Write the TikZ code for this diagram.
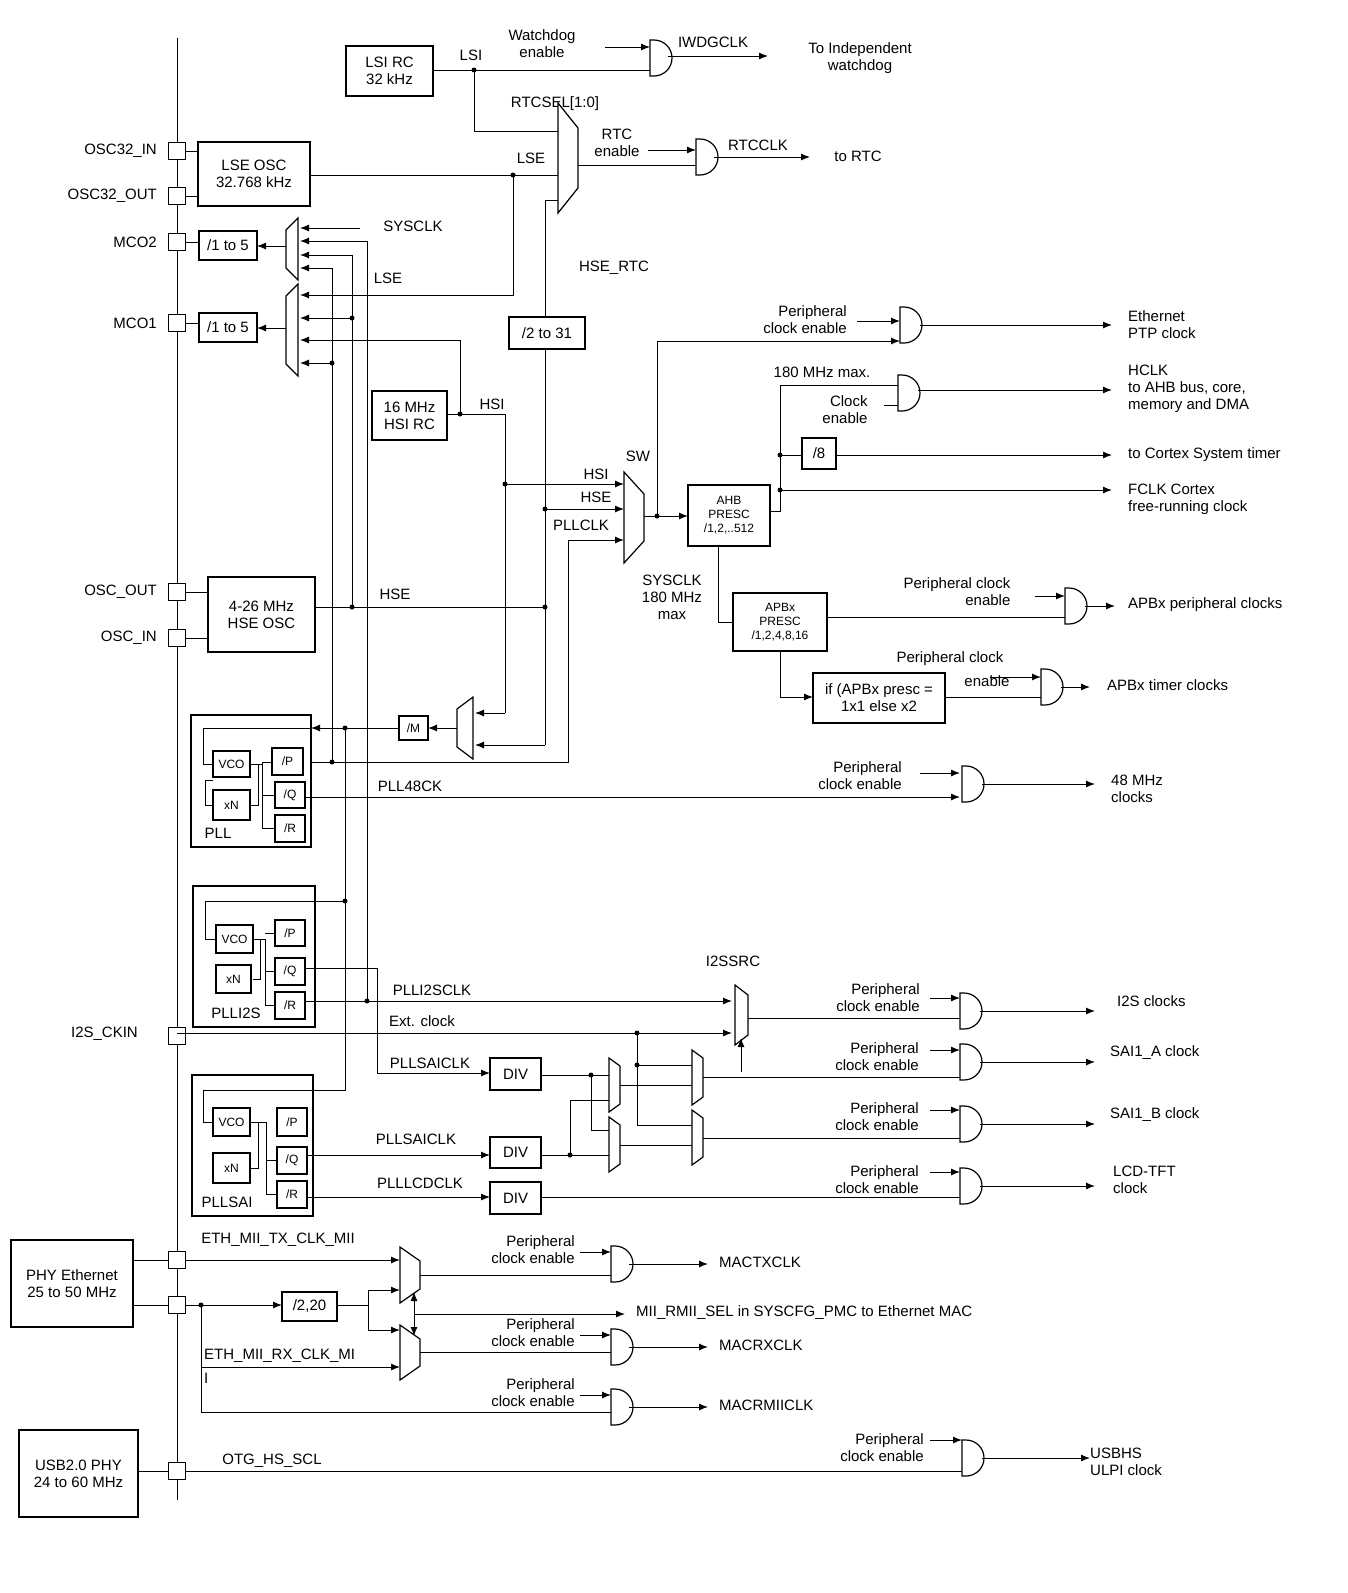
\documentclass[tikz,border=0pt]{standalone}
\usepackage{fontspec}
\setmainfont{Liberation Sans}
\usetikzlibrary{arrows.meta}
\tikzset{
 box/.style={draw,line width=1.3pt,align=center,inner sep=1pt,font=\fontsize{15}{17}\selectfont},
 sbox/.style={box,font=\fontsize{12}{14}\selectfont},
 w/.style={line width=1pt},
 a/.style={w,-{Latex[length=9pt,width=7pt]}},
 t/.style={font=\fontsize{15}{17}\selectfont,align=left,inner sep=0pt},
 dot/.style={circle,fill,inner sep=0pt,minimum size=5pt},
 pin/.style={draw,line width=1.2pt,fill=white,minimum size=17pt,inner sep=0pt}
}
\newcommand\bx[7][box]{\pgfmathsetmacro\bw{#5-#3}\pgfmathsetmacro\bh{#6-#4}\node[#1,minimum width=\bw pt,minimum height=\bh pt] (#2) at ({(#3+#5)/2},{(#4+#6)/2}) {#7};}
\newcommand\gate[2]{\draw[line width=1.2pt,fill=white] (#1,#2-18) -- (#1+4,#2-18) arc(-90:90:18) -- (#1,#2+18) -- cycle;}
\newcommand\mux[5]{\draw[line width=1.2pt,fill=white] (#1,#2) -- (#3,#2+#5) -- (#3,#4-#5) -- (#1,#4) -- cycle;}
\newcommand\D[2]{\node[dot] at (#1,#2) {};}
\begin{document}
\begin{tikzpicture}[x=1pt,y=-1pt]
\useasboundingbox[fill=white] (0,0) rectangle (1348,1593);
% bus
\draw[w] (177,38) -- (177,1500);
% ---- top LSI
\bx{lsi}{346}{46}{433}{96}{LSI RC\\32 kHz}
\node[t] at (471,55) {LSI};
\node[t,align=center] at (542,44) {Watchdog\\enable};
\draw[w] (433,70) -- (650,70);
\draw[a] (605,47) -- (650,47);
\gate{650}{58}
\draw[a] (668,56) -- (768,56);
\node[t] at (713,42) {IWDGCLK};
\node[t,align=center] at (860,58) {To Independent\\watchdog};
\D{474}{70}
\draw[w] (474,70) -- (474,131) -- (563,131);
\node[t] at (555,104) {RTCSEL[1:0]};
% LSE
\bx{lse}{198}{142}{310}{206}{LSE OSC\\32.768 kHz}
\mux{558}{103}{578}{213}{25}
\draw[w] (310,175) -- (558,175);
\node[t] at (531,158) {LSE};
\D{513}{175}
\draw[a] (513,175) -- (513,295) -- (300,295);
\node[t] at (388,278) {LSE};
\draw[w] (545,317) -- (545,200) -- (558,200);
\node[t] at (614,268) {HSE\_RTC};
\node[t,align=center] at (617,143) {RTC\\enable};
\draw[a] (648,150) -- (696,150);
\draw[w] (578,165) -- (696,165);
\gate{696}{157}
\draw[a] (714,157) -- (810,157);
\node[t] at (758,145) {RTCCLK};
\node[t] at (858,156) {to RTC};
% pins
\foreach \y/\l in {151/OSC32\_IN,196/OSC32\_OUT,242/MCO2,323/MCO1,592/OSC\_OUT,638/OSC\_IN}
 {\node[t,anchor=east] at (157,\y) {\l};}
\node[t,anchor=east] at (138,1034) {I2S\_CKIN};
\draw[w] (177,151) -- (198,151);
\draw[w] (177,196) -- (198,196);
\draw[w] (177,242) -- (199,242);
\draw[w] (177,323) -- (199,323);
\draw[w] (177,592) -- (208,592);
\draw[w] (177,638) -- (208,638);
\foreach \y in {151,196,242,323,592,638,1036,1260,1305,1471} {\node[pin] at (177,\y) {};}
% MCO
\bx{d2}{199}{231}{257}{260}{/1 to 5}
\bx{d1}{199}{313}{257}{342}{/1 to 5}
\mux{298}{218}{286}{280}{12}
\mux{298}{284}{286}{376}{12}
\draw[a] (286,246) -- (257,246);
\draw[a] (286,328) -- (257,328);
\draw[a] (360,228) -- (300,228);
\node[t] at (413,226) {SYSCLK};
\draw[a] (367,241) -- (300,241);
\draw[a] (352,255) -- (300,255);
\draw[a] (332,268) -- (300,268);
\draw[a] (352,318) -- (300,318);
\draw[a] (460,340) -- (300,340);
\draw[a] (332,363) -- (300,363);
\draw[w] (367,241) -- (367,1001);
\draw[w] (352,255) -- (352,607);
\draw[w] (332,268) -- (332,762);
\D{352}{318} \D{332}{363}
% HSI
\bx{hsi}{372}{391}{447}{440}{16 MHz\\HSI RC}
\draw[w] (447,414) -- (505,414) -- (505,713);
\draw[w] (460,414) -- (460,340);
\D{460}{414}
\node[t] at (492,404) {HSI};
\draw[a] (505,713) -- (475,713);
% /2 to 31
\bx{d31}{509}{317}{585}{349}{/2 to 31}
\draw[w] (545,349) -- (545,745);
\draw[a] (545,745) -- (475,745);
% HSE
\bx{hse}{208}{577}{315}{652}{4-26 MHz\\HSE OSC}
\draw[w] (315,607) -- (545,607);
\D{352}{607} \D{545}{607}
\node[t] at (395,594) {HSE};
% SW mux
\mux{624}{472}{644}{563}{22}
\node[t] at (638,456) {SW};
\draw[a] (505,484) -- (624,484); \D{505}{484}
\node[t] at (596,474) {HSI};
\draw[a] (545,509) -- (624,509); \D{545}{509}
\node[t] at (596,497) {HSE};
\draw[a] (311,762) -- (568,762) -- (568,540) -- (624,540);
\D{332}{762}
\node[t] at (581,525) {PLLCLK};
\node[t,align=center] at (672,597) {SYSCLK\\180 MHz\\max};
\bx[sbox]{ahb}{688}{485}{770}{546}{AHB\\PRESC\\/1,2,..512}
\draw[a] (644,516) -- (688,516); \D{657}{516}
\draw[a] (657,516) -- (657,341) -- (900,341);
\node[t,align=right] at (805,320) {Peripheral\\clock enable};
\draw[a] (857,321) -- (900,321);
\gate{900}{325}
\draw[a] (920,325) -- (1112,325);
\node[t,anchor=west] at (1128,325) {Ethernet\\PTP clock};
% HCLK
\draw[w] (770,511) -- (780,511) -- (780,385) -- (898,385);
\node[t] at (822,372) {180 MHz max.};
\draw[w] (884,405) -- (898,405);
\node[t,align=right] at (845,410) {Clock\\enable};
\gate{898}{393}
\draw[a] (918,390) -- (1112,390);
\node[t,anchor=west] at (1128,389) {HCLK\\to AHB bus, core,\\memory and DMA};
\bx{d8}{802}{438}{836}{469}{/8}
\D{780}{455} \draw[w] (780,455) -- (802,455);
\draw[a] (836,455) -- (1112,455);
\node[t,anchor=west] at (1128,455) {to Cortex System timer};
\D{780}{490} \draw[a] (780,490) -- (1112,490);
\node[t,anchor=west] at (1128,499) {FCLK Cortex\\free-running clock};
% APB
\bx[sbox]{apb}{733}{593}{827}{651}{APBx\\PRESC\\/1,2,4,8,16}
\draw[w] (718,546) -- (718,622) -- (733,622);
\draw[w] (827,617) -- (1065,617);
\draw[a] (1035,596) -- (1065,596);
\node[t,align=right] at (957,592) {Peripheral clock\\\hfill enable};
\gate{1065}{606}
\draw[a] (1085,606) -- (1115,606);
\node[t,anchor=west] at (1128,605) {APBx peripheral clocks};
\draw[a] (780,651) -- (780,697) -- (813,697);
\bx{tim}{813}{673}{945}{723}{if (APBx presc =\\1x1 else x2}
\draw[w] (945,697) -- (1041,697);
\draw[a] (990,677) -- (1041,677);
\node[t] at (950,659) {Peripheral clock};
\node[t] at (987,681) {enable};
\gate{1041}{687}
\draw[a] (1061,687) -- (1090,687);
\node[t,anchor=west] at (1107,685) {APBx timer clocks};
% M
\mux{473}{697}{457}{759}{12}
\bx[sbox]{m}{399}{716}{428}{740}{/M}
\draw[a] (457,728) -- (428,728);
\draw[a] (399,728) -- (311,728);
\D{345}{728}
\draw[w] (345,728) -- (345,1090) -- (313,1090);
% PLL
\draw[line width=1.3pt] (191,715) rectangle (311,847);
\bx[sbox]{vco1}{213}{751}{250}{777}{VCO}
\bx[sbox]{xn1}{213}{790}{250}{820}{xN}
\bx[sbox]{p1}{272}{748}{303}{775}{/P}
\bx[sbox]{q1}{275}{782}{305}{808}{/Q}
\bx[sbox]{r1}{275}{815}{305}{842}{/R}
\node[t] at (218,833) {PLL};
\draw[w] (311,728) -- (203,728) -- (203,764) -- (213,764);
\draw[w] (250,764) -- (262,764) -- (262,762) -- (272,762);
\draw[w] (262,764) -- (262,828) -- (275,828);
\draw[w] (262,795) -- (275,795);
\draw[w] (250,805) -- (258,805) -- (258,764);
\draw[w] (213,805) -- (205,805) -- (205,780) -- (213,780);
\draw[a] (305,797) -- (960,797);
\node[t] at (410,786) {PLL48CK};
\node[t,align=right] at (860,776) {Peripheral\\clock enable};
\draw[a] (920,773) -- (960,773);
\gate{962}{784}
\draw[a] (982,784) -- (1095,784);
\node[t,anchor=west] at (1111,789) {48 MHz\\clocks};
% PLLI2S
\draw[line width=1.3pt] (193,886) rectangle (315,1027);
\bx[sbox]{vco2}{216}{925}{253}{953}{VCO}
\bx[sbox]{xn2}{216}{965}{251}{993}{xN}
\bx[sbox]{p2}{275}{920}{305}{946}{/P}
\bx[sbox]{q2}{275}{958}{305}{985}{/Q}
\bx[sbox]{r2}{275}{992}{305}{1019}{/R}
\node[t] at (236,1013) {PLLI2S};
\D{345}{901}
\draw[w] (345,901) -- (205,901) -- (205,939) -- (216,939);
\draw[w] (253,939) -- (265,939) -- (265,1005) -- (275,1005);
\draw[w] (265,933) -- (275,933); \draw[w] (265,971) -- (275,971);
\draw[w] (253,979) -- (260,979) -- (260,939);
\draw[w] (305,968) -- (377,968) -- (377,1073);
\draw[a] (377,1073) -- (490,1073);
\node[t] at (430,1063) {PLLSAICLK};
\draw[a] (305,1001) -- (732,1001); \D{367}{1001}
\node[t] at (432,990) {PLLI2SCLK};
\draw[a] (177,1033) -- (732,1033);
\node[t] at (422,1021) {Ext. clock};
% I2S mux
\mux{735}{985}{748}{1045}{10}
\node[t] at (733,961) {I2SSRC};
\draw[a] (741,1072) -- (741,1038);
\draw[w] (748,1018) -- (960,1018);
\draw[a] (930,998) -- (960,998);
\node[t,align=right] at (878,998) {Peripheral\\clock enable};
\gate{960}{1011}
\draw[a] (980,1011) -- (1095,1011);
\node[t,anchor=west] at (1117,1001) {I2S clocks};
% PLLSAI
\draw[line width=1.3pt] (192,1075) rectangle (313,1216);
\bx[sbox]{vco3}{213}{1108}{250}{1136}{VCO}
\bx[sbox]{xn3}{213}{1153}{250}{1183}{xN}
\bx[sbox]{p3}{277}{1108}{307}{1136}{/P}
\bx[sbox]{q3}{277}{1147}{307}{1174}{/Q}
\bx[sbox]{r3}{277}{1181}{307}{1208}{/R}
\node[t] at (227,1202) {PLLSAI};
\draw[w] (313,1090) -- (203,1090) -- (203,1122) -- (213,1122);
\draw[w] (250,1122) -- (266,1122) -- (266,1194) -- (277,1194);
\draw[w] (266,1160) -- (277,1160);
\draw[w] (250,1168) -- (258,1168) -- (258,1122);
\draw[a] (307,1155) -- (490,1155);
\node[t] at (416,1139) {PLLSAICLK};
\draw[a] (307,1197) -- (490,1197);
\node[t] at (420,1183) {PLLLCDCLK};
\bx{div1}{490}{1058}{541}{1090}{DIV}
\bx{div2}{490}{1137}{541}{1168}{DIV}
\bx{div3}{490}{1182}{541}{1214}{DIV}
\mux{609}{1058}{620}{1112}{8}
\mux{609}{1117}{620}{1172}{8}
\mux{692}{1050}{703}{1105}{8}
\mux{692}{1110}{703}{1165}{8}
\draw[w] (541,1075) -- (609,1075); \D{591}{1075}
\draw[w] (591,1075) -- (591,1130) -- (609,1130);
\draw[w] (541,1155) -- (609,1155); \D{570}{1155}
\draw[w] (570,1155) -- (570,1100) -- (609,1100);
\draw[w] (637,1033) -- (637,1125) -- (692,1125); \D{637}{1065} \D{637}{1033}
\draw[w] (637,1065) -- (692,1065);
\draw[w] (620,1085) -- (692,1085);
\draw[w] (620,1145) -- (692,1145);
\draw[w] (703,1077) -- (960,1077);
\draw[w] (703,1138) -- (960,1138);
\draw[w] (541,1197) -- (960,1197);
\foreach \y/\g/\l in {1050/1062/SAI1\_A clock,1110/1124/SAI1\_B clock}{
 \draw[a] (930,\y) -- (960,\y);
 \node[t,align=right] at (877,\y+7) {Peripheral\\clock enable};
 \gate{960}{\g}
 \draw[a] (980,\g) -- (1095,\g);
 \node[t,anchor=west] at (1110,\g-9) {\l};}
\draw[a] (930,1172) -- (960,1172);
\node[t,align=right] at (877,1180) {Peripheral\\clock enable};
\gate{960}{1186}
\draw[a] (980,1186) -- (1095,1186);
\node[t,anchor=west] at (1113,1180) {LCD-TFT\\clock};
% Ethernet
\bx{phy}{11}{1240}{133}{1327}{PHY Ethernet\\25 to 50 MHz}
\bx{usb}{19}{1430}{138}{1517}{USB2.0 PHY\\24 to 60 MHz}
\draw[w] (133,1260) -- (168,1260);
\draw[w] (133,1305) -- (168,1305);
\draw[w] (138,1471) -- (168,1471);
\node[t] at (278,1240) {ETH\_MII\_TX\_CLK\_MII};
\draw[a] (186,1260) -- (400,1260);
\mux{400}{1247}{420}{1303}{14}
\mux{400}{1325}{420}{1380}{14}
\draw[a] (186,1305) -- (282,1305); \D{201}{1305}
\bx{d220}{282}{1292}{337}{1321}{/2,20}
\draw[w] (337,1305) -- (368,1305);
\draw[a] (368,1290) -- (400,1290);
\draw[a] (368,1290) -- (368,1330) -- (400,1330);
\draw[w] (201,1305) -- (201,1412);
\draw[a] (201,1367) -- (400,1367);
\node[t,anchor=west] at (204,1356) {ETH\_MII\_RX\_CLK\_MI};
\node[t,anchor=west] at (204,1378) {I};
\draw[w,{Latex[length=9pt,width=7pt]}-{Latex[length=9pt,width=7pt]}] (414,1292) -- (414,1336);
\draw[a] (414,1314) -- (625,1314);
\node[t,anchor=west] at (636,1313) {MII\_RMII\_SEL in SYSCFG\_PMC to Ethernet MAC};
\draw[w] (420,1275) -- (611,1275);
\draw[w] (420,1352) -- (611,1352);
\draw[w] (201,1412) -- (611,1412);
\foreach \y/\g/\l in {1252/1264/MACTXCLK,1335/1347/MACRXCLK,1395/1407/MACRMIICLK}{
 \draw[a] (580,\y) -- (611,\y);
 \node[t,align=right] at (533,\y-2) {Peripheral\\clock enable};
 \gate{611}{\g}
 \draw[a] (629,\g) -- (708,\g);
 \node[t,anchor=west] at (719,\g-2) {\l};}
% USB
\node[t] at (272,1461) {OTG\_HS\_SCL};
\draw[w] (186,1471) -- (962,1471);
\draw[a] (930,1440) -- (962,1440);
\node[t,align=right] at (882,1448) {Peripheral\\clock enable};
\gate{962}{1458}
\draw[a] (982,1458) -- (1090,1458);
\node[t,anchor=west] at (1090,1462) {USBHS\\ULPI clock};
\end{tikzpicture}
\end{document}
